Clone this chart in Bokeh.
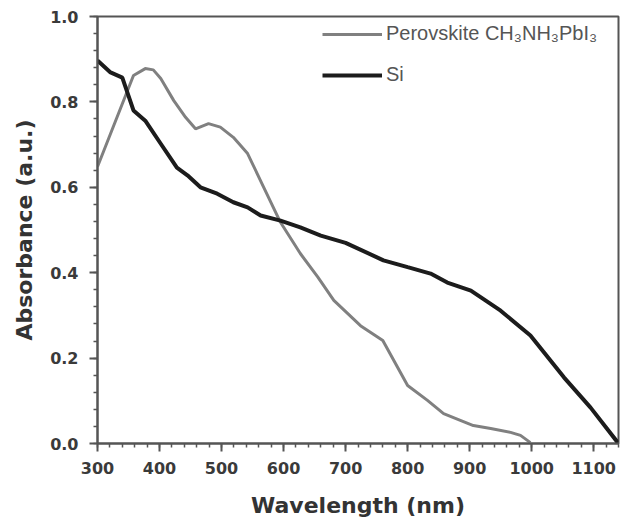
from bokeh.plotting import figure
from bokeh.models import Range1d, SingleIntervalTicker, NumeralTickFormatter, Legend, LegendItem
from bokeh.embed import file_html
from bokeh.resources import INLINE

# Data
perovskite_wavelength = [300, 358, 377, 390, 402, 423, 442, 458, 479, 498, 519, 542, 568, 595, 627,
                         655, 681, 724, 760, 800, 832, 858, 906, 934, 966, 982, 998]
perovskite_absorbance = [0.648, 0.862, 0.878, 0.875, 0.855, 0.803, 0.764, 0.737, 0.749, 0.741, 0.717,
                         0.679, 0.600, 0.518, 0.445, 0.390, 0.335, 0.276, 0.241, 0.136, 0.101, 0.070,
                         0.042, 0.035, 0.026, 0.019, 0.002]

si_wavelength = [300, 321, 340, 358, 377, 402, 428, 445, 466, 493, 519, 542, 563, 595, 627, 660,
                 700, 761, 800, 837, 864, 902, 950, 998, 1052, 1095, 1139]
si_absorbance = [0.897, 0.869, 0.857, 0.780, 0.756, 0.702, 0.646, 0.628, 0.600, 0.585, 0.565, 0.553,
                 0.534, 0.522, 0.506, 0.487, 0.470, 0.429, 0.413, 0.398, 0.377, 0.358, 0.311, 0.253,
                 0.155, 0.084, 0.002]

series_labels = ["Perovskite CH\u2083NH\u2083PbI\u2083", "Si"]
x_label = "Wavelength (nm)"
y_label = "Absorbance (a.u.)"

p = figure(width=626, height=522, output_backend="svg", toolbar_location=None,
           x_range=Range1d(300, 1140), y_range=Range1d(0, 1.0),
           min_border_left=97, min_border_right=8, min_border_top=16, min_border_bottom=79)

p.grid.visible = False
p.background_fill_color = "white"
p.outline_line_color = "#555555"
p.outline_line_width = 2

r1 = p.line(perovskite_wavelength, perovskite_absorbance, line_color="#808080", line_width=3)
r2 = p.line(si_wavelength, si_absorbance, line_color="#1c1c1c", line_width=4)

p.xaxis.ticker = SingleIntervalTicker(interval=100, num_minor_ticks=5)
p.yaxis.ticker = SingleIntervalTicker(interval=0.2, num_minor_ticks=5)
p.yaxis.formatter = NumeralTickFormatter(format="0.0")

for ax in (p.xaxis, p.yaxis):
    ax.axis_line_color = "#555555"
    ax.axis_line_width = 2
    ax.major_tick_line_color = "#555555"
    ax.major_tick_line_width = 2
    ax.minor_tick_line_color = "#555555"
    ax.minor_tick_line_width = 1.5
    ax.major_tick_in = 0
    ax.major_tick_out = 8
    ax.minor_tick_in = 0
    ax.minor_tick_out = 4
    ax.major_label_text_font = "DejaVu Sans"
    ax.major_label_text_font_style = "bold"
    ax.major_label_text_font_size = "16px"
    ax.major_label_text_color = "#3a3a3a"
    ax.major_label_standoff = 10
    ax.axis_label_text_font = "DejaVu Sans"
    ax.axis_label_text_font_style = "bold"
    ax.axis_label_text_font_size = "22px"
    ax.axis_label_text_color = "#333333"

p.xaxis.axis_label_standoff = 16
p.yaxis.axis_label_standoff = 10
p.yaxis.major_label_standoff = 11
p.xaxis.axis_label = x_label
p.yaxis.axis_label = y_label

legend = Legend(items=[LegendItem(label=series_labels[0], renderers=[r1]),
                       LegendItem(label=series_labels[1], renderers=[r2])],
                location=(225, 357), padding=0, margin=0, spacing=18,
                glyph_width=60, glyph_height=20, label_height=20, label_standoff=4,
                label_text_font="Liberation Sans", label_text_font_size="20px",
                label_text_color="#555555", border_line_alpha=0, background_fill_alpha=0)
p.add_layout(legend)

open("out.html", "w").write(file_html(p, INLINE))
